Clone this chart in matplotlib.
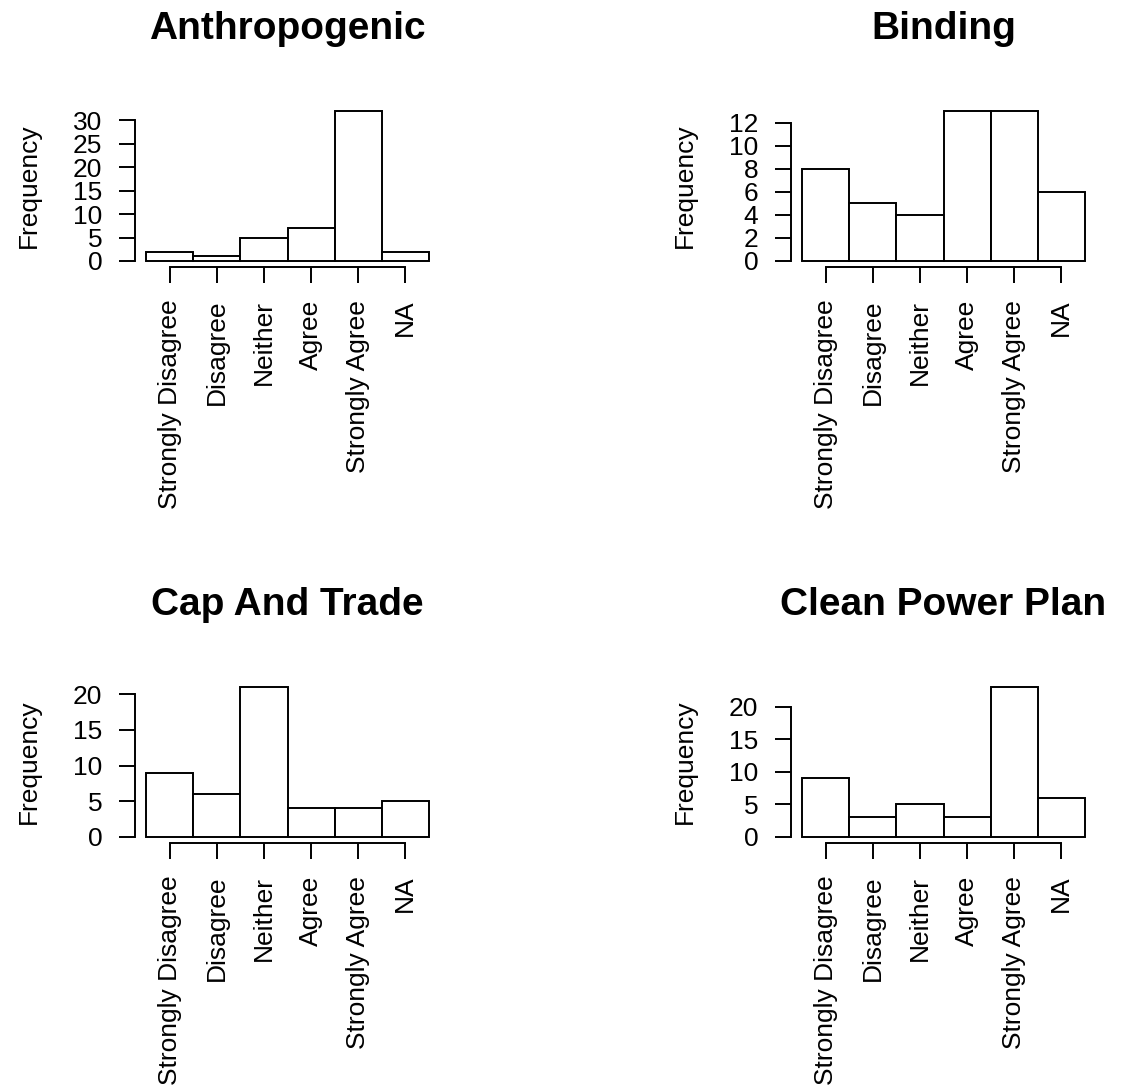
import matplotlib
matplotlib.use('Agg')
import matplotlib.pyplot as plt
from matplotlib.ticker import MultipleLocator
from matplotlib.transforms import offset_copy

plt.rcParams['font.family'] = ['Liberation Sans', 'DejaVu Sans']

categories = ['Strongly Disagree', 'Disagree', 'Neither', 'Agree', 'Strongly Agree', 'NA']
titles = ['Anthropogenic', 'Binding', 'Cap And Trade', 'Clean Power Plan']
anthropogenic = [2, 1, 5, 7, 32, 2]
binding = [8, 5, 4, 13, 13, 6]
cap_and_trade = [9, 6, 21, 4, 4, 5]
clean_power_plan = [9, 3, 5, 3, 23, 6]
y_steps = [5, 2, 5, 5]

series = [anthropogenic, binding, cap_and_trade, clean_power_plan]

W, H = 1128, 1087
fig = plt.figure(figsize=(W / 100, H / 100), dpi=100)

# plot regions in pixels: left, top, width, height
lefts = [135, 791, 135, 791]
tops = [105, 105, 681, 681]
pw, ph = 305, 162
lw = 1.4

for i in range(4):
    vals = series[i]
    ax = fig.add_axes([lefts[i] / W, 1 - (tops[i] + ph) / H, pw / W, ph / H])
    x = list(range(1, len(vals) + 1))
    ax.bar(x, vals, width=1, color='white', edgecolor='black', linewidth=lw)
    m = max(vals)
    ax.set_xlim(0.5 - 0.24, len(vals) + 0.5 + 0.24)
    ax.set_ylim(-0.04 * m, 1.04 * m)
    ax.yaxis.set_major_locator(MultipleLocator(y_steps[i]))
    top_tick = (m // y_steps[i]) * y_steps[i]
    ax.set_xticks(x)
    ax.set_xticklabels(categories, rotation=90, fontsize=19)
    ax.tick_params(axis='y', labelsize=19)
    ax.tick_params(direction='out', length=11.5, width=lw, pad=12)
    for s in ['top', 'right']:
        ax.spines[s].set_visible(False)
    ax.spines['left'].set_bounds(0, top_tick)
    ax.spines['bottom'].set_bounds(1, len(vals))
    ax.spines['left'].set_linewidth(lw)
    ax.spines['bottom'].set_linewidth(lw)
    ax.set_ylim(-0.04 * m, 1.04 * m)

    tr = offset_copy(ax.transAxes, fig=fig, x=-99, y=0, units='dots')
    ax.text(0, 0.5, 'Frequency', transform=tr, rotation=90, rotation_mode='anchor',
            ha='center', va='baseline', fontsize=19)
    tr2 = offset_copy(ax.transAxes, fig=fig, x=0, y=66, units='dots')
    ax.text(0.5, 1, titles[i], transform=tr2, ha='center', va='baseline',
            fontsize=28, fontweight='bold')

fig.savefig('out.png', dpi=100)
